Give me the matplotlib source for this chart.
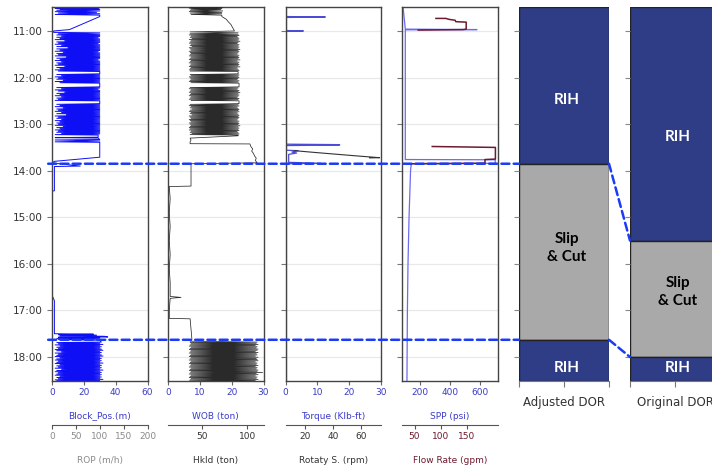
import numpy as np
import matplotlib.pyplot as plt
from matplotlib.patches import ConnectionPatch

# time axis (decimal hours, runs downwards)
hour_ticks = [11, 12, 13, 14, 15, 16, 17, 18]
hour_labels = ["11:00", "12:00", "13:00", "14:00", "15:00", "16:00", "17:00", "18:00"]
t_top, t_bot = 10.485, 18.515

# ---- track 1 : block position (m)
bp_top_t = [10.48, 10.49, 10.50, 10.51, 10.52, 10.53, 10.54, 10.555, 10.57, 10.585,
            10.60, 10.615, 10.63, 10.645, 10.66, 10.69, 10.97, 11.00, 11.03, 11.04]
bp_top_v = [30, 3, 30, 2, 29, 5, 30, 3, 30, 2,
            28, 4, 30, 2, 30, 30, 11, 1, 1, 30]

bp_a_t = [11.06, 11.07, 11.085, 11.095, 11.11, 11.12, 11.135, 11.145, 11.16, 11.17,
          11.185, 11.195, 11.21, 11.22, 11.235, 11.245, 11.26, 11.27, 11.285, 11.295,
          11.31, 11.32, 11.335, 11.345, 11.36, 11.37, 11.385, 11.395, 11.41, 11.42,
          11.435, 11.445, 11.46, 11.47, 11.485, 11.495, 11.51, 11.52, 11.535, 11.545,
          11.56, 11.57, 11.585, 11.595, 11.61, 11.62, 11.635, 11.645, 11.66, 11.67,
          11.685, 11.695, 11.71, 11.72, 11.735, 11.745, 11.76, 11.77, 11.785, 11.795,
          11.81, 11.82, 11.835, 11.845, 11.86, 11.87, 11.92, 11.935, 11.945, 11.96,
          11.97, 11.985, 11.995, 12.01, 12.02, 12.035, 12.045, 12.06, 12.07, 12.085,
          12.095, 12.11, 12.12, 12.20, 12.215, 12.225, 12.24, 12.25, 12.265, 12.275,
          12.29, 12.30, 12.315, 12.325, 12.34, 12.35, 12.365, 12.375, 12.39, 12.40,
          12.415, 12.425, 12.44, 12.45, 12.465, 12.475, 12.49, 12.50, 12.56, 12.575,
          12.585, 12.60, 12.61, 12.625, 12.635, 12.65, 12.66, 12.675, 12.685, 12.70,
          12.71, 12.725, 12.735, 12.75, 12.76, 12.775, 12.785, 12.80, 12.81, 12.825,
          12.835, 12.85, 12.86, 12.875, 12.885, 12.90, 12.91, 12.925, 12.935, 12.95,
          12.96, 12.975, 12.985, 13.00, 13.01, 13.025, 13.035, 13.05, 13.06, 13.075,
          13.085, 13.10, 13.11, 13.125, 13.135, 13.15, 13.16, 13.175, 13.185, 13.20,
          13.21, 13.225, 13.235]
bp_a_v = [4, 30, 3, 30, 6, 30, 3, 29, 5, 30,
          2, 30, 8, 30, 3, 30, 4, 29, 2, 30,
          6, 30, 3, 30, 10, 30, 3, 30, 5, 30,
          2, 29, 7, 30, 3, 30, 4, 30, 2, 30,
          9, 30, 3, 30, 5, 29, 2, 30, 6, 30,
          3, 30, 4, 30, 2, 30, 8, 30, 3, 30,
          5, 30, 2, 30, 4, 30, 30, 3, 30, 6,
          30, 2, 30, 4, 30, 3, 30, 7, 30, 2,
          30, 5, 30, 30, 3, 30, 6, 29, 2, 30,
          4, 30, 8, 30, 3, 30, 5, 30, 2, 30,
          6, 30, 3, 30, 4, 30, 2, 30, 30, 3,
          30, 5, 30, 2, 30, 7, 30, 3, 30, 4,
          30, 2, 30, 6, 30, 3, 30, 9, 30, 2,
          30, 4, 30, 3, 30, 6, 30, 2, 30, 5,
          30, 3, 30, 4, 30, 2, 30, 7, 30, 3,
          30, 5, 30, 2, 30, 4, 30, 3, 30, 6,
          30, 2, 29]

bp_mid_t = [13.25, 13.28, 13.29, 13.30, 13.33, 13.34, 13.36, 13.38, 13.39, 13.71,
            13.80, 13.83, 13.84, 13.90, 13.91, 14.43, 14.44]
bp_mid_v = [29, 29, 2, 29, 30, 2, 30, 2, 30, 30,
            1.2, 1, 2, 17.7, 1.5, 1.5, 0]

bp_late_t = [16.68, 16.70, 16.79, 17.50, 17.51, 17.52, 17.53, 17.545, 17.555, 17.57,
             17.575, 17.585, 17.60, 17.61, 17.625, 17.64]
bp_late_v = [0, 0.3, 1.5, 1.5, 26, 4, 28, 5, 33, 35,
             4, 30, 3, 30, 4, 30]

bp_b_t = [17.68, 17.69, 17.705, 17.715, 17.73, 17.74, 17.755, 17.765, 17.78, 17.79,
          17.805, 17.815, 17.83, 17.84, 17.855, 17.865, 17.88, 17.89, 17.905, 17.915,
          17.93, 17.94, 17.955, 17.965, 17.98, 17.99, 18.005, 18.015, 18.03, 18.04,
          18.055, 18.065, 18.08, 18.09, 18.105, 18.115, 18.13, 18.14, 18.155, 18.165,
          18.18, 18.19, 18.205, 18.215, 18.23, 18.24, 18.255, 18.265, 18.28, 18.29,
          18.305, 18.315, 18.33, 18.34, 18.355, 18.365, 18.38, 18.39, 18.405, 18.415,
          18.43, 18.44, 18.455, 18.465, 18.48, 18.49, 18.505, 18.515, 18.53, 18.54]
bp_b_v = [31, 3, 30, 4, 32, 2, 30, 5, 31, 3,
          30, 4, 31, 2, 32, 3, 30, 6, 31, 2,
          30, 4, 31, 3, 32, 2, 30, 5, 31, 3,
          30, 2, 31, 4, 30, 3, 32, 2, 30, 5,
          31, 3, 30, 4, 31, 2, 30, 6, 32, 3,
          30, 2, 31, 4, 30, 3, 31, 2, 30, 5,
          31, 3, 30, 4, 32, 2, 30, 3, 31, 2]

# ---- track 2 : hookload (ton)
hk_top_t = [10.48, 10.49, 10.50, 10.51, 10.52, 10.53, 10.54, 10.555, 10.57, 10.585,
            10.60, 10.615, 10.63, 10.645, 10.66, 10.69, 10.75, 10.80, 10.86, 10.93,
            11.00, 11.02, 11.04]
hk_top_v = [72, 37, 73, 36, 72, 38, 71, 37, 73, 36,
            72, 37, 72, 38, 72, 72, 77, 79, 82, 84,
            86, 37, 90]

hk_a_v = [37, 90, 36, 91, 38, 89, 37, 90, 39, 91,
          36, 90, 38, 92, 37, 90, 36, 89, 38, 91,
          37, 90, 39, 91, 36, 90, 37, 92, 38, 90,
          36, 91, 37, 90, 38, 89, 37, 91, 36, 90,
          38, 91, 37, 90, 36, 92, 38, 89, 37, 91,
          36, 90, 38, 91, 37, 90, 36, 92, 38, 89,
          37, 90, 36, 91, 37, 90, 90, 37, 91, 38,
          90, 36, 91, 37, 90, 38, 89, 37, 91, 36,
          90, 38, 91, 91, 37, 90, 36, 89, 38, 91,
          37, 90, 36, 92, 38, 90, 37, 91, 36, 90,
          38, 89, 37, 91, 36, 90, 38, 91, 91, 37,
          90, 36, 91, 38, 89, 37, 90, 39, 91, 37,
          90, 36, 91, 38, 89, 37, 90, 39, 91, 36,
          90, 37, 91, 38, 90, 36, 89, 37, 91, 38,
          90, 36, 91, 37, 90, 38, 92, 37, 90, 36,
          91, 37, 90, 36, 91, 38, 89, 37, 90, 39,
          91, 37, 90]

hk_mid_t = [13.25, 13.30, 13.34, 13.38, 13.42, 13.425, 13.48, 13.53, 13.58, 13.63,
            13.68, 13.73, 13.78, 13.83, 13.85, 14.33, 14.34, 14.60, 14.90, 15.20,
            15.50, 15.80, 16.10, 16.40, 16.70, 16.72, 16.74, 17.00, 17.17, 17.18,
            17.40, 17.62, 17.66]
hk_mid_v = [90, 37, 38, 37, 37, 103, 104, 106, 105, 107,
            108, 110, 109, 111, 38, 38, 14, 15, 14, 15,
            14, 15, 14, 15, 15, 27, 15, 14, 14, 37,
            38, 39, 37]

hk_b_v = [111, 37, 110, 38, 112, 37, 109, 36, 111, 38,
          110, 37, 112, 36, 111, 38, 109, 37, 112, 36,
          110, 38, 111, 37, 109, 36, 112, 38, 110, 37,
          111, 36, 112, 38, 109, 37, 111, 36, 110, 38,
          112, 37, 109, 36, 111, 38, 110, 37, 112, 36,
          111, 38, 117, 37, 110, 36, 112, 38, 109, 37,
          111, 36, 110, 38, 112, 37, 109, 36, 111, 38]

# ---- track 3 : torque (klb-ft) and rotary speed (rpm)
tq_t = [10.48, 10.69, 10.70, 10.71, 10.99, 11.00, 11.01, 13.43, 13.44, 13.45,
        13.46, 13.56, 13.57, 13.60, 13.62, 13.65, 13.82, 13.84, 13.85, 13.86, 18.52]
tq_v = [0.3, 0.3, 12.5, 0.3, 0.3, 5.6, 0.3, 0.3, 17, 17,
        0.3, 0.3, 4, 2, 3.5, 1, 1, 11, 0.5, 0.3, 0.3]
rpm_t = [13.57, 13.61, 13.65, 13.69, 13.72, 13.725]
rpm_v = [13, 28, 44, 60, 73, 66]

# ---- track 4 : standpipe pressure (psi) and flow rate (gpm)
spp_t = [10.48, 10.96, 10.97, 10.975, 13.76, 13.765, 13.84, 13.85, 14.0, 15.0,
         16.0, 17.0, 18.0, 18.52]
spp_v = [85, 100, 578, 100, 100, 700, 700, 140, 135, 125,
         118, 114, 112, 111]
fl_a_t = [10.73, 10.73, 10.75, 10.77, 10.80, 10.81, 10.96, 10.97, 10.98]
fl_a_v = [91, 110, 116, 128, 129, 149, 149, 143, 57]
fl_b_t = [13.48, 13.50, 13.75, 13.76, 13.84, 13.85]
fl_b_v = [84, 205, 205, 185, 185, 45]

# ---- DOR columns
adj_bounds = [10.485, 13.85, 17.63, 18.515]
orig_bounds = [10.485, 15.50, 18.00, 18.515]
op_names = ["RIH", "Slip\n& Cut", "RIH"]
adj_text_t = [12.48, 15.66, 18.24]
orig_text_t = [13.28, 16.60, 18.24]

blue = "#0f0ff5"
lbl_blue = "#3b3bc8"
navy = "#2e3d86"
grey_blk = "#a9a9a9"
maroon = "#6e1a2e"

track_specs = [
    # primary label, lim, ticks, secondary label, lim, ticks, secondary colour
    ("Block_Pos.(m)", (0, 60), [0, 20, 40, 60], "ROP (m/h)", (0, 200), [0, 50, 100, 150, 200], "#8a8a8a"),
    ("WOB (ton)", (0, 30), [0, 10, 20, 30], "Hkld (ton)", (12.6, 118), [50, 100], "#333333"),
    ("Torque (Klb-ft)", (0, 30), [0, 10, 20, 30], "Rotaty S. (rpm)", (6.5, 74), [20, 40, 60], "#333333"),
    ("SPP (psi)", (78, 715), [200, 400, 600], "Flow Rate (gpm)", (26, 209), [50, 100, 150], maroon),
]
lefts = [52, 168, 285.5, 402]

fig = plt.figure(figsize=(7.12, 4.72), dpi=100)
W, H = 712.0, 472.0
ax_b, ax_h = 1 - 381 / H, (381 - 7) / H

axes = []
sec_axes = []
for i, spec in enumerate(track_specs):
    ax = fig.add_axes([lefts[i] / W, ax_b, 95.5 / W, ax_h])
    ax.set_ylim(t_bot, t_top)
    ax.set_xlim(*spec[1])
    ax.set_xticks(spec[2])
    ax.set_yticks(hour_ticks)
    ax.grid(axis="y", color="#e9e9e9", lw=0.9)
    ax.set_axisbelow(True)
    for s in ax.spines.values():
        s.set_color("#444444")
        s.set_linewidth(1.0)
    ax.tick_params(axis="x", colors="#666666", labelcolor=lbl_blue, labelsize=6.5,
                   length=3, pad=2)
    ax.tick_params(axis="y", colors="#777777", length=3.5, labelsize=7.5,
                   labelcolor="#333333")
    if i == 0:
        ax.set_yticklabels(hour_labels)
    else:
        ax.set_yticklabels([])
    ax.set_xlabel(spec[0], color=lbl_blue, fontsize=6.5, labelpad=10.5)

    ax2 = ax.twiny()
    ax2.set_xlim(*spec[4])
    ax2.set_xticks(spec[5])
    ax2.xaxis.set_ticks_position("bottom")
    ax2.xaxis.set_label_position("bottom")
    for k in ["top", "left", "right"]:
        ax2.spines[k].set_visible(False)
    ax2.spines["bottom"].set_position(("outward", 31.7))
    ax2.spines["bottom"].set_color("#555555")
    ax2.tick_params(axis="x", colors="#555555", labelcolor=spec[6], labelsize=6.5,
                    length=3, pad=2)
    ax2.set_xlabel(spec[3], color=spec[6], fontsize=6.5, labelpad=10.5)
    axes.append(ax)
    sec_axes.append(ax2)

nan = [np.nan]
bp_t = np.concatenate([bp_top_t, bp_a_t, bp_mid_t, nan, bp_late_t, bp_b_t])
bp_v = np.concatenate([bp_top_v, bp_a_v, bp_mid_v, nan, bp_late_v, bp_b_v])
axes[0].plot(bp_v, bp_t, color=blue, lw=0.7)

hk_t = np.concatenate([hk_top_t, bp_a_t, hk_mid_t, bp_b_t])
hk_v = np.concatenate([hk_top_v, hk_a_v, hk_mid_v, hk_b_v])
sec_axes[1].plot(hk_v, hk_t, color="#2a2a2a", lw=0.55)

axes[2].plot(tq_v, tq_t, color="#4b4bd6", lw=0.9)
sec_axes[2].plot(rpm_v, rpm_t, color="#333333", lw=0.8)

axes[3].plot(spp_v, spp_t, color="#6b6bf0", lw=0.9)
sec_axes[3].plot(fl_a_v, fl_a_t, color=maroon, lw=1.1)
sec_axes[3].plot(fl_b_v, fl_b_t, color=maroon, lw=1.1)

# DOR columns
dor_axes = []
for left, bounds, text_t, name in [(519, adj_bounds, adj_text_t, "Adjusted DOR"),
                                   (630, orig_bounds, orig_text_t, "Original DOR")]:
    axd = fig.add_axes([left / W, ax_b, 90 / W, ax_h])
    axd.set_ylim(t_bot, t_top)
    axd.set_xlim(0, 1)
    starts = bounds[:-1]
    heights = np.diff(bounds)
    axd.bar([0.5] * 3, heights, bottom=starts, width=1.0,
            color=[navy, grey_blk, navy], edgecolor="#222222", lw=1.0)
    for name_op, tt, col in zip(op_names, text_t, ["white", "black", "white"]):
        axd.text(0.53, tt, name_op, ha="center", va="center", color=col,
                 fontsize=11, fontweight="bold", family="Lato", linespacing=1.35)
    for k in ["top", "left", "right"]:
        axd.spines[k].set_visible(False)
    axd.spines["bottom"].set_color("#777777")
    axd.set_yticks(hour_ticks)
    axd.set_yticklabels([])
    axd.set_xticks([0, 0.5, 1])
    axd.set_xticklabels([])
    axd.tick_params(axis="y", colors="#888888", length=3.5)
    axd.tick_params(axis="x", colors="#777777", length=4)
    axd.set_xlabel(name, fontsize=8.5, color="#333333", labelpad=3)
    dor_axes.append(axd)

# dashed guide lines
dash = dict(color="#1a3cf5", lw=1.8, linestyle=(0, (3.2, 1.7)), zorder=10)
for t in adj_bounds[1:3]:
    con = ConnectionPatch(xyA=(-0.04, t), coordsA=axes[0].get_yaxis_transform(),
                          xyB=(0, t), coordsB=dor_axes[0].get_yaxis_transform(), **dash)
    fig.add_artist(con)
for ta, tb in zip(adj_bounds[1:3], orig_bounds[1:3]):
    con = ConnectionPatch(xyA=(1, ta), coordsA=dor_axes[0].get_yaxis_transform(),
                          xyB=(0, tb), coordsB=dor_axes[1].get_yaxis_transform(), **dash)
    fig.add_artist(con)

fig.savefig("out.png", dpi=100)
